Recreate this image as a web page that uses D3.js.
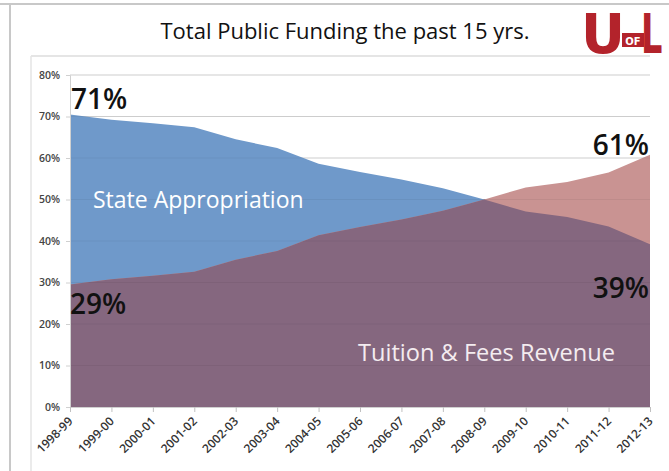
<!DOCTYPE html>
<html><head><meta charset="utf-8">
<script src="https://cdn.jsdelivr.net/npm/d3@7"></script>
<style>body{margin:0;background:#fff;}svg{display:block;font-family:"Open Sans",sans-serif;}</style>
</head><body>
<svg id="c" width="669" height="471"></svg>
<script>
const years = ["1998-99","1999-00","2000-01","2001-02","2002-03","2003-04","2004-05","2005-06","2006-07","2007-08","2008-09","2009-10","2010-11","2011-12","2012-13"];
const stateAppropriation = [70.5,69.2,68.4,67.4,64.5,62.4,58.6,56.6,54.8,52.7,50.0,47.1,45.8,43.5,39.2];
const tuitionFees = [29.5,30.8,31.6,32.6,35.5,37.6,41.4,43.4,45.2,47.3,50.0,52.9,54.2,56.5,60.8];
const yTicks = [0,10,20,30,40,50,60,70,80];
const endLabels = {state:["71%","39%"], tuition:["29%","61%"]};

const svg = d3.select("#c");
// frame
svg.append("line").attr("x1",0).attr("x2",669).attr("y1",4).attr("y2",4).attr("stroke","#c8c8c8").attr("stroke-width",2);
svg.append("line").attr("x1",10).attr("x2",10).attr("y1",4).attr("y2",471).attr("stroke","#c8c8c8").attr("stroke-width",2);
svg.append("line").attr("x1",31).attr("x2",650).attr("y1",56).attr("y2",56).attr("stroke","#dcdcdc").attr("stroke-width",1.5);
svg.append("line").attr("x1",31).attr("x2",31).attr("y1",56).attr("y2",471).attr("stroke","#e4e4e4").attr("stroke-width",1.5);

svg.append("text").attr("x",345).attr("y",39).attr("text-anchor","middle").attr("font-size",22).attr("fill","#111").text("Total Public Funding the past 15 yrs.");

// logo
const logo = svg.append("g").attr("fill","#b3232b").attr("font-family","'DejaVu Sans',sans-serif").attr("font-weight","bold");
logo.append("text").attr("x",581).attr("y",53).attr("font-size",56).attr("textLength",44).attr("lengthAdjust","spacingAndGlyphs").text("U");
logo.append("rect").attr("x",622).attr("y",33).attr("width",22).attr("height",14);
logo.append("text").attr("transform","translate(641,53) scale(0.6,1)").attr("font-size",56).text("L");
logo.append("text").attr("x",633).attr("y",45).attr("text-anchor","middle").attr("font-size",10).attr("fill","#fff").text("OF");

const x = d3.scalePoint().domain(years).range([70,650]);
const y = d3.scaleLinear().domain([0,80]).range([407,75]);

// gridlines
svg.append("g").selectAll("line").data(yTicks).join("line")
  .attr("x1",70).attr("x2",650).attr("y1",d=>y(d)).attr("y2",d=>y(d))
  .attr("stroke","#d9d9d9").attr("stroke-width",1);

const area = vals => d3.area().x((d,i)=>x(years[i])).y0(y(0)).y1(d=>y(d))(vals);
const overlap = stateAppropriation.map((v,i)=>Math.min(v,tuitionFees[i]));

svg.append("path").attr("d",area(stateAppropriation)).attr("fill","#6f99ca");
svg.append("path").attr("d",area(tuitionFees)).attr("fill","#c99392");
svg.append("path").attr("d",area(overlap)).attr("fill","#85677f");

// faint gridlines over areas
svg.append("g").selectAll("line").data(yTicks.filter(d=>d>0)).join("line")
  .attr("x1",70).attr("x2",650).attr("y1",d=>y(d)).attr("y2",d=>y(d))
  .attr("stroke","#000").attr("stroke-opacity",0.05).attr("stroke-width",1);

// y axis
const ya = svg.append("g").attr("transform","translate(70,0)")
  .call(d3.axisLeft(y).tickValues(yTicks).tickFormat(d=>d+"%").tickSize(4).tickPadding(6));
ya.select(".domain").attr("stroke","#d0d0d0");
ya.selectAll(".tick line").attr("stroke","#d0d0d0");
ya.selectAll("text").attr("font-size",10.5).attr("font-weight","600").attr("fill","#444").attr("font-family","'Open Sans',sans-serif");

// x axis
const xa = svg.append("g").attr("transform","translate(0,407)")
  .call(d3.axisBottom(x).tickSize(5).tickSizeOuter(0));
xa.select(".domain").attr("stroke","#d0d0d0");
xa.selectAll(".tick line").attr("stroke","#c0c0c0");
xa.selectAll("text").attr("font-size",12).attr("font-weight","600").attr("fill","#333")
  .attr("font-family","'Open Sans',sans-serif")
  .attr("text-anchor","end").attr("y",0).attr("dy",0).attr("dx",0)
  .attr("transform","translate(3,15) rotate(-45)");

// series labels
svg.append("text").attr("x",93).attr("y",208).attr("font-size",23).attr("fill","#fff").text("State Appropriation");
svg.append("text").attr("x",358).attr("y",361).attr("font-size",23.6).attr("fill","#f4ecf0").text("Tuition & Fees Revenue");

// end value labels
const big = (t,xx,yy,anchor)=>svg.append("text").attr("x",xx).attr("y",yy).attr("text-anchor",anchor)
  .attr("font-size",28).attr("font-weight","600").attr("fill","#111").text(t);
big(endLabels.state[0], x(years[0])+1, 109, "start");
big(endLabels.tuition[0], x(years[0]), 314, "start");
big(endLabels.tuition[1], 649, 155, "end");
big(endLabels.state[1], 649, 298, "end");
</script>
</body></html>
